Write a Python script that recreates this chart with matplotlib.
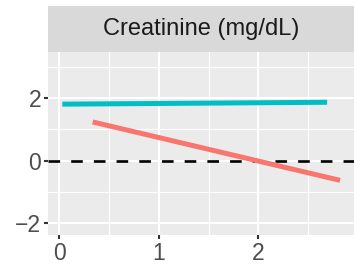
import matplotlib
matplotlib.use("Agg")
import matplotlib.pyplot as plt

plt.rcParams['font.family'] = ['Liberation Sans', 'DejaVu Sans']

strip_title = "Creatinine (mg/dL)"
teal_x = [0.03, 2.69]
teal_y = [1.81, 1.87]
red_x = [0.335, 2.82]
red_y = [1.24, -0.63]
x_ticks = [0, 1, 2]
y_ticks = [-2, 0, 2]
x_minor = [0.5, 1.5, 2.5]
y_minor = [-1, 1, 3]

fig = plt.figure(figsize=(3.55, 2.70), dpi=100)
W, H = 355, 270
left, right, top, bottom = 48, 354, 52, 235
ax = fig.add_axes([left / W, (H - bottom) / H, (right - left) / W, (bottom - top) / H])
sax = fig.add_axes([left / W, (H - top) / H, (right - left) / W, 46 / H])

ax.set_facecolor('#EBEBEB')
for s in ax.spines.values():
    s.set_visible(False)
ax.set_xlim(-0.114, 2.96)
ax.set_ylim(-2.38, 3.48)
ax.set_xticks(x_ticks)
ax.set_yticks(y_ticks)
ax.set_xticks(x_minor, minor=True)
ax.set_yticks(y_minor, minor=True)
ax.set_xticklabels([str(v) for v in x_ticks])
ax.set_yticklabels(['\u22122', '0', '2'])
ax.grid(True, which='major', color='white', linewidth=1.5)
ax.grid(True, which='minor', color='white', linewidth=0.8)
ax.set_axisbelow(True)
ax.tick_params(which='major', length=3, width=1.5, color='#333333',
               labelsize=16.5, labelcolor='#4D4D4D', pad=2)
ax.tick_params(which='minor', length=0)

ax.axhline(0, color='black', linewidth=1.9, dashes=(4.4, 4.2))
ax.plot(red_x, red_y, color='#F8766D', linewidth=3.6, solid_capstyle='butt')
ax.plot(teal_x, teal_y, color='#00BFC4', linewidth=3.6, solid_capstyle='butt')

sax.set_facecolor('#D9D9D9')
for s in sax.spines.values():
    s.set_visible(False)
sax.set_xticks([])
sax.set_yticks([])
sax.text(0.5, 0.5, strip_title, ha='center', va='center', fontsize=17,
         color='#1A1A1A', transform=sax.transAxes)

fig.savefig('out.png', dpi=100)
